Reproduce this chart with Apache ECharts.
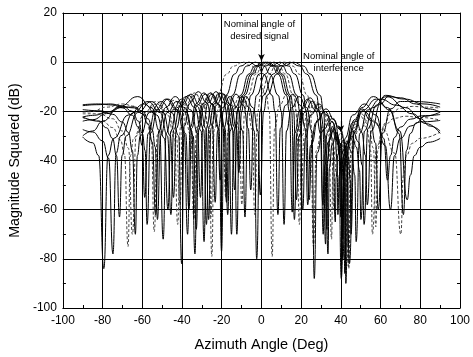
<!DOCTYPE html>
<html>
<head>
<meta charset="utf-8">
<script src="https://cdn.jsdelivr.net/npm/echarts@6/dist/echarts.min.js"></script>
<style>
  html, body { margin: 0; padding: 0; background: #fff; }
  #chart { width: 473px; height: 357px; }
</style>
</head>
<body>
<div id="chart"></div>
<script>
// Beam patterns (magnitude squared, dB) versus azimuth for a set of steering angles.
// Each pattern is a list of [azimuth deg, dB] pairs.
const xTicks = { min: -100, max: 100, step: 20 };
const yTicks = { min: -100, max: 20, step: 20 };

const patternSteerM9 = [
  [-90,-21],[-82,-21],[-75,-23],[-70,-28],[-67,-35],[-65,-70],
  [-63.1,-30],[-59,-20.5],[-53,-16],[-47,-20.5],[-42.9,-30],[-41,-58],
  [-39.8,-27],[-37.1,-17.5],[-33.3,-13],[-29.4,-17.5],[-26.7,-27],[-25.5,-63],
  [-23.9,-20],[-22.3,-13.5],[-17.4,-4.8],[-14.2,-1.6],[-9.3,0],[-4.9,-1.6],[-2,-4.8],[2.5,-13.5],[3.9,-20],[5.4,-79],
  [6.6,-27],[9.1,-17.5],[12.8,-13],[16.4,-17.5],[18.9,-27],[20.1,-52],
  [21.4,-31],[24.2,-21.5],[28.3,-17],[32.4,-21.5],[35.2,-31],[36.5,-60],
  [37,-45],[38.1,-35.5],[39.8,-31],[41.4,-35.5],[42.5,-45],[43,-75],
  [44.2,-35],[46.7,-25.5],[50.3,-21],[54,-25.5],[56.4,-35],[57.6,-67],
  [58.6,-36],[60,-30],[62,-25],[65,-21],[70,-18.8],[76,-18],[83,-18.3],[90,-18.7]
];

const patternSteerM6 = [
  [-90,-17.3],[-82,-17],[-75,-17.4],[-70,-18.6],[-65,-21.6],[-62,-26.5],[-60,-34],[-58.8,-55],
  [-57.1,-29],[-53.4,-19.5],[-48,-15],[-42.6,-19.5],[-38.9,-29],[-37.2,-70],
  [-35.9,-26.5],[-33.1,-17],[-29,-12.5],[-24.9,-17],[-22.1,-26.5],[-20.8,-48],
  [-19.3,-20],[-17.9,-13.5],[-13.5,-4.8],[-10.6,-1.6],[-6.3,0],[-1.9,-1.6],[1,-4.8],[5.4,-13.5],[6.8,-20],[8.3,-62],
  [9.5,-27],[12.1,-17.5],[15.8,-13],[19.6,-17.5],[22.1,-27],[23.3,-58],
  [24.7,-34],[27.5,-24.5],[31.8,-20],[36,-24.5],[38.9,-34],[40.2,-88],
  [42.1,-31],[46,-21.5],[51.9,-17],[57.7,-21.5],[61.6,-31],[63.5,-48],
  [65,-38],[67,-30.6],[70,-26.4],[75,-23.2],[81,-21.8],[90,-21.3]
];

const patternSteerM3 = [
  [-90,-22.3],[-84,-21.6],[-78,-20.3],[-70,-18.1],[-64,-18.6],[-60,-21],[-57,-25.3],[-55,-32.5],[-53.3,-62],
  [-51.7,-28],[-48.4,-18.5],[-43.4,-14],[-38.5,-18.5],[-35.1,-28],[-33.5,-78],
  [-32.2,-26.5],[-29.5,-17],[-25.6,-12.5],[-21.6,-17],[-18.9,-26.5],[-17.6,-57],
  [-16.2,-20],[-14.7,-13.5],[-10.4,-4.8],[-7.5,-1.6],[-3.1,0],[1.3,-1.6],[4.2,-4.8],[8.5,-13.5],[10,-20],[11.4,-66],
  [12.6,-28],[15.2,-18.5],[19,-14],[22.8,-18.5],[25.4,-28],[26.6,-88],
  [28,-37],[31,-27.5],[35.5,-23],[39.9,-27.5],[42.9,-37],[44.3,-82],
  [46.5,-29],[51.1,-19.5],[57.9,-15],[64.7,-19.5],[69.3,-29],[71.5,-62],
  [73,-36],[75,-29],[78,-24.7],[82,-22],[90,-20.3]
];

const patternSteer1 = [
  [-90,-30.5],[-85,-32.8],[-82,-38],[-79.4,-84],
  [-77.3,-38],[-74.4,-31],[-67.1,-21.5],[-59.1,-17],[-52.7,-21.5],[-48.9,-31],[-47.1,-60],
  [-45.6,-28],[-42.6,-18.5],[-38,-14],[-33.5,-18.5],[-30.4,-28],[-28.9,-73],
  [-27.7,-26.5],[-25.1,-17],[-21.2,-12.5],[-17.4,-17],[-14.7,-26.5],[-13.5,-52],
  [-12.1,-20],[-10.6,-13.5],[-6.3,-4.8],[-3.4,-1.6],[1,0],[5.4,-1.6],[8.3,-4.8],[12.6,-13.5],[14.1,-20],[15.5,-61],
  [16.7,-29],[19.4,-19.5],[23.3,-15],[27.2,-19.5],[29.9,-29],[31.1,-70],
  [31.9,-42],[33.6,-32.5],[36.1,-28],[38.5,-32.5],[40.2,-42],[41,-72],
  [41.7,-44],[43.3,-34.5],[45.6,-30],[47.8,-34.5],[49.4,-44],[50.1,-64],
  [51.9,-28],[56,-18.5],[63.1,-14],[72.6,-18.5],[80,-23],[85,-26],[90,-28]
];

const patternSteer2 = [
  [-90,-27.4],[-85,-28.4],[-80,-32],[-77,-39],[-74.8,-78],
  [-73.2,-37],[-70.9,-30],[-64.5,-20.5],[-57.1,-16],[-51,-20.5],[-47.3,-30],[-45.6,-62],
  [-44.2,-27.5],[-41.1,-18],[-36.7,-13.5],[-32.2,-18],[-29.1,-27.5],[-27.7,-66],
  [-26.5,-26.5],[-23.9,-17],[-20.1,-12.5],[-16.2,-17],[-13.6,-26.5],[-12.4,-70],
  [-11,-20],[-9.5,-13.5],[-5.2,-4.8],[-2.3,-1.6],[2.1,0],[6.5,-1.6],[9.4,-4.8],[13.7,-13.5],[15.2,-20],[16.6,-64],
  [17.9,-28.5],[20.5,-19],[24.5,-14.5],[28.4,-19],[31,-28.5],[32.3,-74],
  [33,-41],[34.4,-31.5],[36.4,-27],[38.5,-31.5],[39.8,-41],[40.5,-68],
  [41.4,-42],[43.3,-32.5],[46.1,-28],[48.9,-32.5],[50.8,-42],[51.7,-66],
  [53.6,-27],[57.9,-17.5],[62.5,-13.5],[70,-14.5],[78,-17],[84,-19],[90,-20.3]
];

const patternSteer3 = [
  [-90,-22.3],[-82,-24],[-78,-26.7],[-75,-31],[-73,-38],[-71.5,-63],
  [-70.2,-38],[-68.1,-30],[-62.4,-20.5],[-55.4,-16],[-49.5,-20.5],[-45.9,-30],[-44.3,-55],
  [-42.9,-27],[-39.9,-17.5],[-35.5,-13],[-31,-17.5],[-28,-27],[-26.6,-64],
  [-25.4,-27],[-22.8,-17.5],[-19,-13],[-15.2,-17.5],[-12.6,-27],[-11.4,-45],
  [-10,-20],[-8.5,-13.5],[-4.2,-4.8],[-1.3,-1.6],[3.1,0],[7.5,-1.6],[10.4,-4.8],[14.7,-13.5],[16.2,-20],[17.6,-56],
  [18.9,-30],[21.6,-20.5],[25.6,-16],[29.5,-20.5],[32.2,-30],[33.5,-78],
  [34.2,-43],[35.6,-33.5],[37.8,-29],[39.9,-33.5],[41.3,-43],[42,-86],
  [42.9,-38],[44.8,-28.5],[47.7,-24],[50.5,-28.5],[52.4,-38],[53.3,-58],
  [55.3,-28],[59.9,-17],[64,-14],[72,-15],[81.9,-17],[90,-18.3]
];

const patternSteer4p6 = [
  [-90,-22.6],[-80,-24],[-75,-26.6],[-71,-31.7],[-69,-37.5],[-67.2,-75],
  [-66,-38],[-64.4,-31],[-59.3,-21.5],[-52.8,-17],[-47.3,-21.5],[-43.8,-31],[-42.2,-66],
  [-40.8,-26.5],[-37.9,-17],[-33.6,-12.5],[-29.3,-17],[-26.4,-26.5],[-25,-79],
  [-23.8,-27.5],[-21.2,-18],[-17.5,-13.5],[-13.7,-18],[-11.1,-27.5],[-9.9,-58],
  [-8.5,-20],[-7,-13.5],[-2.7,-4.8],[0.3,-1.6],[4.6,0],[9,-1.6],[11.9,-4.8],[16.2,-13.5],[17.7,-20],[19.1,-66],
  [20.4,-30],[23.2,-20.5],[27.2,-16],[31.3,-20.5],[34,-30],[35.3,-72],
  [36,-43],[37.5,-33.5],[39.7,-29],[41.8,-33.5],[43.3,-43],[44,-84],
  [45,-36],[47,-26.5],[50,-22],[52.9,-26.5],[55,-36],[55.9,-70],
  [58,-34],[62.9,-25],[67,-22.8],[72.4,-22],[80,-22.5],[90,-23.6]
];

const patternSteer6 = [
  [-90,-19.3],[-81,-19.8],[-75,-21.2],[-70,-24.4],[-67,-28.6],[-65,-36],[-63.5,-70],
  [-62.5,-38],[-61,-30],[-56.4,-20.5],[-50.4,-16],[-45.1,-20.5],[-41.7,-30],[-40.2,-82],
  [-38.9,-26],[-36,-16.5],[-31.8,-12],[-27.5,-16.5],[-24.7,-26],[-23.3,-57],
  [-22.1,-28],[-19.6,-18.5],[-15.8,-14],[-12.1,-18.5],[-9.5,-28],[-8.3,-63],
  [-6.9,-20],[-5.4,-13.5],[-1,-4.8],[1.9,-1.6],[6.3,0],[10.6,-1.6],[13.5,-4.8],[17.9,-13.5],[19.3,-20],[20.8,-60],
  [22.1,-31],[24.9,-21.5],[29,-17],[33.1,-21.5],[35.9,-31],[37.2,-65],
  [37.6,-47],[38.5,-37.5],[39.9,-33],[41.2,-37.5],[42.1,-47],[42.5,-90],
  [43.8,-33],[46.6,-23.5],[50.7,-19],[54.7,-23.5],[57.5,-33],[58.8,-60],
  [61,-29],[65,-19],[70,-16],[77,-16],[90,-17]
];

const patternSteer9 = [
  [-90,-17.7],[-83,-17.3],[-76,-17],[-70,-17.8],[-65,-20],[-62,-24],[-60,-29],[-58.6,-36],[-57.6,-66],
  [-55.9,-29],[-52.3,-19.5],[-47.1,-15],[-41.8,-19.5],[-38.2,-29],[-36.5,-60],
  [-35.2,-27],[-32.4,-17.5],[-28.3,-13],[-24.2,-17.5],[-21.4,-27],[-20.1,-77],
  [-18.9,-27],[-16.4,-17.5],[-12.8,-13],[-9.1,-17.5],[-6.6,-27],[-5.4,-52],
  [-3.9,-20],[-2.5,-13.5],[2,-4.8],[4.9,-1.6],[9.3,0],[13.7,-1.6],[16.7,-4.8],[21.1,-13.5],[22.5,-20],[24,-56],
  [25.4,-33],[28.3,-23.5],[32.5,-19],[36.8,-23.5],[39.6,-33],[41,-80],
  [42.5,-34],[45.9,-24.5],[51.4,-20],[57.5,-24.5],[62.4,-34],[65,-60],
  [67,-38],[70,-31],[75,-26],[80,-24.3],[90,-23.7]
];

const patternSteer11 = [
  [-90,-20.4],[-86,-20.2],[-78,-18.3],[-70,-17],[-64,-17.9],[-60,-20.7],[-57.5,-24.7],[-55.5,-31.6],[-54,-69],
  [-52.4,-29.5],[-49,-20],[-44,-15.5],[-39,-20],[-35.6,-29.5],[-34,-64],
  [-32.7,-26.5],[-30,-17],[-26,-12.5],[-22,-17],[-19.3,-26.5],[-18,-55],
  [-16.8,-27.5],[-14.4,-18],[-10.7,-13.5],[-7.1,-18],[-4.6,-27.5],[-3.4,-62],
  [-1.9,-20],[-0.4,-13.5],[4,-4.8],[7,-1.6],[11.4,0],[15.8,-1.6],[18.8,-4.8],[23.2,-13.5],[24.7,-20],[26.2,-75],
  [27.6,-36],[30.6,-26.5],[35,-22],[39.3,-26.5],[42.3,-36],[43.7,-83],
  [45.3,-37],[48.9,-27.5],[54.7,-23],[61.5,-27.5],[67.1,-37],[70.2,-70],
  [71.5,-46],[73,-38],[76,-33],[80,-31],[90,-28.4]
];

const patternSteer13 = [
  [-90,-24],[-85,-23.4],[-78,-20.9],[-70,-18.4],[-64,-18.2],[-60,-19.9],[-57,-23.1],[-55,-27.6],[-53.5,-34.5],[-52.4,-64],
  [-50.8,-30],[-47.5,-20.5],[-42.6,-16],[-37.7,-20.5],[-34.4,-30],[-32.8,-68],
  [-31.5,-27],[-28.9,-17.5],[-24.9,-13],[-21,-17.5],[-18.3,-27],[-17,-62],
  [-15.8,-28],[-13.4,-18.5],[-9.7,-14],[-6.1,-18.5],[-3.6,-28],[-2.4,-80],
  [-0.7,-20],[0.9,-13.5],[6,-4.8],[9.3,-1.6],[14.3,0],[19.3,-1.6],[22.7,-4.8],[27.7,-13.5],[29.3,-20],[31,-58],
  [31.7,-38],[33.3,-28.5],[35.5,-24],[37.8,-28.5],[39.3,-38],[40,-63],
  [40.4,-48],[41.3,-38.5],[42.6,-34],[43.8,-38.5],[44.7,-48],[45.1,-70],
  [46.7,-28],[50.4,-18.5],[56.4,-14],[63.6,-18.5],[69.7,-28],[73.4,-56],
  [75,-46],[77,-38],[80,-34.6],[84,-32.6],[90,-31]
];

const patternSteer16 = [
  [-90,-30],[-85,-28],[-80,-24],[-71.4,-18],[-62.3,-14],[-55.3,-18.5],[-51.3,-28],[-49.5,-72],
  [-48,-29],[-44.8,-19.5],[-40.1,-15],[-35.4,-19.5],[-32.2,-29],[-30.7,-55],
  [-29.5,-26],[-26.8,-16.5],[-22.9,-12],[-19,-16.5],[-16.4,-26],[-15.1,-70],
  [-13.9,-28],[-11.5,-18.5],[-7.9,-14],[-4.2,-18.5],[-1.8,-28],[-0.6,-54],
  [1.1,-20],[2.8,-13.5],[7.8,-4.8],[11.2,-1.6],[16.2,0],[21.2,-1.6],[24.6,-4.8],[29.6,-13.5],[31.3,-20],[33,-68],
  [33.4,-40],[34.4,-30.5],[35.8,-26],[37.1,-30.5],[38.1,-40],[38.5,-62],
  [39.2,-46],[40.8,-36.5],[43.1,-32],[45.4,-36.5],[47,-46],[47.7,-73],
  [49.5,-29],[53.4,-19.5],[59.9,-15],[68,-17.5],[76,-21],[83,-25],[90,-29]
];

// [label, data, dashed]
const patterns = [
  ['steer -9°', patternSteerM9, true],
  ['steer -6°', patternSteerM6, false],
  ['steer -3°', patternSteerM3, false],
  ['steer 1°', patternSteer1, false],
  ['steer 2°', patternSteer2, false],
  ['steer 3°', patternSteer3, false],
  ['steer 4.6°', patternSteer4p6, true],
  ['steer 6°', patternSteer6, false],
  ['steer 9°', patternSteer9, false],
  ['steer 11°', patternSteer11, true],
  ['steer 13°', patternSteer13, false],
  ['steer 16°', patternSteer16, false]
];

const desiredAngle = 0;
const interferenceAngle = 40;

const FONT = 'Liberation Sans, Arial, Helvetica, sans-serif';

const chart = echarts.init(document.getElementById('chart'), null, { renderer: 'canvas' });

function axisCommon(showLabel) {
  return {
    axisLine: { show: true, onZero: false, lineStyle: { color: '#000', width: 1 } },
    axisTick: { show: true, inside: true, length: 5, lineStyle: { color: '#000', width: 1 } },
    minorTick: { show: true, splitNumber: 2, length: 3, lineStyle: { color: '#000', width: 1 } },
    axisLabel: { show: showLabel, color: '#000', fontFamily: FONT, fontSize: 12 },
    minorSplitLine: { show: false }
  };
}

const series = patterns.map(([name, data, dashed]) => ({
  name,
  type: 'line',
  data,
  xAxisIndex: 0,
  yAxisIndex: 0,
  showSymbol: false,
  symbol: 'none',
  smooth: 0.5,
  smoothMonotone: 'x',
  clip: true,
  lineStyle: {
    color: dashed ? '#444' : '#000',
    width: 1,
    type: dashed ? [3, 2] : 'solid'
  },
  silent: true,
  z: dashed ? 2 : 3
}));

// annotations: labels and arrows at the desired and interference directions
series.push({
  name: 'annotations',
  type: 'line',
  data: [],
  xAxisIndex: 0,
  yAxisIndex: 0,
  silent: true,
  z: 5,
  markPoint: {
    symbol: 'circle',
    symbolSize: 1,
    itemStyle: { color: 'rgba(0,0,0,0)' },
    label: {
      show: true,
      position: 'inside',
      color: '#000',
      fontFamily: FONT,
      fontSize: 9.5,
      lineHeight: 12,
      align: 'center'
    },
    data: [
      { coord: [-1, 12.8], value: 'Nominal angle of\ndesired signal',
        label: { formatter: 'Nominal angle of\ndesired signal' } },
      { coord: [38.9, 0], value: 'Nominal angle of\ninterference',
        label: { formatter: 'Nominal angle of\ninterference' } }
    ]
  },
  markLine: {
    silent: true,
    symbol: ['none', 'arrow'],
    symbolSize: [5, 7],
    label: { show: false },
    lineStyle: { color: '#000', width: 1.2, type: 'solid' },
    data: [
      [{ coord: [desiredAngle, 5] }, { coord: [desiredAngle, 0.5] }],
      [{ coord: [interferenceAngle, -24] }, { coord: [interferenceAngle, -28.5] }]
    ]
  }
});

const option = {
  animation: false,
  backgroundColor: '#fff',
  grid: { left: 58, right: 9, top: 13, bottom: 44, containLabel: false },
  xAxis: [
    Object.assign(axisCommon(true), {
      type: 'value', position: 'bottom',
      min: xTicks.min, max: xTicks.max, interval: xTicks.step,
      name: 'Azimuth Angle (Deg)', nameLocation: 'middle', nameGap: 29,
      nameTextStyle: { color: '#000', fontFamily: FONT, fontSize: 14.5 },
      axisLabel: { show: true, color: '#000', fontFamily: FONT, fontSize: 12, margin: 7 },
      splitLine: { show: true, lineStyle: { color: '#000', width: 1 } }
    }),
    Object.assign(axisCommon(false), {
      type: 'value', position: 'top',
      min: xTicks.min, max: xTicks.max, interval: xTicks.step,
      splitLine: { show: false }
    })
  ],
  yAxis: [
    Object.assign(axisCommon(true), {
      type: 'value', position: 'left',
      min: yTicks.min, max: yTicks.max, interval: yTicks.step,
      name: 'Magnitude Squared (dB)', nameLocation: 'middle', nameGap: 38,
      nameTextStyle: { color: '#000', fontFamily: FONT, fontSize: 14.2 },
      axisLabel: { show: true, color: '#000', fontFamily: FONT, fontSize: 12, margin: 6 },
      splitLine: { show: true, lineStyle: { color: '#000', width: 1 } }
    }),
    Object.assign(axisCommon(false), {
      type: 'value', position: 'right',
      min: yTicks.min, max: yTicks.max, interval: yTicks.step,
      splitLine: { show: false }
    })
  ],
  series
};

chart.setOption(option);
</script>
</body>
</html>
